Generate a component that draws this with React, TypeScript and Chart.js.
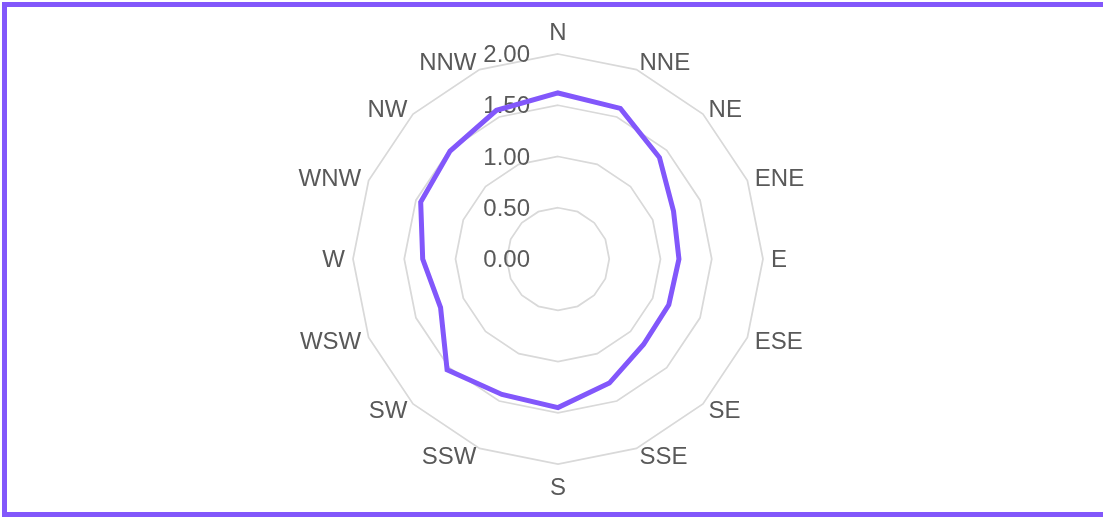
import React, { useEffect, useRef } from "react";
import { Chart, registerables } from "chart.js";

Chart.register(...registerables);

const directions = ["N", "NNE", "NE", "ENE", "E", "ESE", "SE", "SSE", "S", "SSW", "SW", "WSW", "W", "WNW", "NW", "NNW"];
const values = [1.62, 1.59, 1.4, 1.22, 1.18, 1.17, 1.18, 1.31, 1.45, 1.43, 1.53, 1.24, 1.32, 1.45, 1.49, 1.57];
const tickValues = [0, 0.5, 1, 1.5, 2];
const tickLabels = ["0.00", "0.50", "1.00", "1.50", "2.00"];

const PURPLE = "#8257fb";
const TEXT = "#595959";
const GRID = "#d9d9d9";
const FONT = "'Liberation Sans', Arial, sans-serif";
const FONT_SIZE = 24;
const LABEL_PAD = 8;

const labelsPlugin = {
  id: "excelLabels",
  beforeDatasetsDraw(chart: any) {
    const scale = chart.scales.r;
    const ctx = chart.ctx;
    ctx.save();
    ctx.font = `${FONT_SIZE}px ${FONT}`;
    ctx.fillStyle = TEXT;
    // value-axis tick labels, right-aligned left of the vertical axis
    ctx.textAlign = "right";
    ctx.textBaseline = "middle";
    tickValues.forEach((v, i) => {
      const d = scale.getDistanceFromCenterForValue(v);
      ctx.fillText(tickLabels[i], scale.xCenter - 28, scale.yCenter - d + 1.5);
    });
    // category labels
    const half = (FONT_SIZE * 1.2) / 2;
    directions.forEach((lab, i) => {
      const p = scale.getPointPosition(i, scale.drawingArea + LABEL_PAD);
      const x = p.x;
      let y = p.y + 1.5;
      let align: CanvasTextAlign = "left";
      if (Math.abs(p.x - scale.xCenter) < 0.5) {
        align = "center";
        y += p.y < scale.yCenter ? -half : half;
      } else if (p.x < scale.xCenter) {
        align = "right";
      }
      ctx.textAlign = align;
      ctx.fillText(lab, x, y);
    });
    ctx.restore();
  },
};

export default function App() {
  const ref = useRef<HTMLCanvasElement | null>(null);
  useEffect(() => {
    if (!ref.current) return;
    const chart = new Chart(ref.current, {
      type: "radar",
      data: {
        labels: directions,
        datasets: [
          {
            data: values,
            borderColor: PURPLE,
            backgroundColor: "transparent",
            borderWidth: 5,
            pointRadius: 0,
            pointHoverRadius: 0,
            fill: false,
            tension: 0,
          },
        ],
      },
      options: {
        responsive: false,
        animation: false,
        layout: { padding: { left: 13, right: 0, top: 54, bottom: 53 } },
        plugins: { legend: { display: false }, tooltip: { enabled: false } },
        scales: {
          r: {
            min: 0,
            max: 2,
            ticks: { stepSize: 0.5, display: false },
            grid: { color: GRID, lineWidth: 1.75 },
            angleLines: { display: false },
            pointLabels: { display: false },
          },
        },
      },
      plugins: [labelsPlugin],
    });
    return () => chart.destroy();
  }, []);

  return (
    <div style={{ position: "fixed", left: 0, top: 0, width: 1103, height: 518, overflow: "hidden", background: "#fff" }}>
      <div
        style={{
          position: "absolute",
          left: 2,
          top: 2,
          width: 1120,
          height: 515,
          boxSizing: "border-box",
          border: `5px solid ${PURPLE}`,
        }}
      />
      <canvas
        ref={ref}
        width={1103}
        height={518}
        style={{ position: "absolute", left: 0, top: 0, width: 1103, height: 518 }}
      />
    </div>
  );
}
